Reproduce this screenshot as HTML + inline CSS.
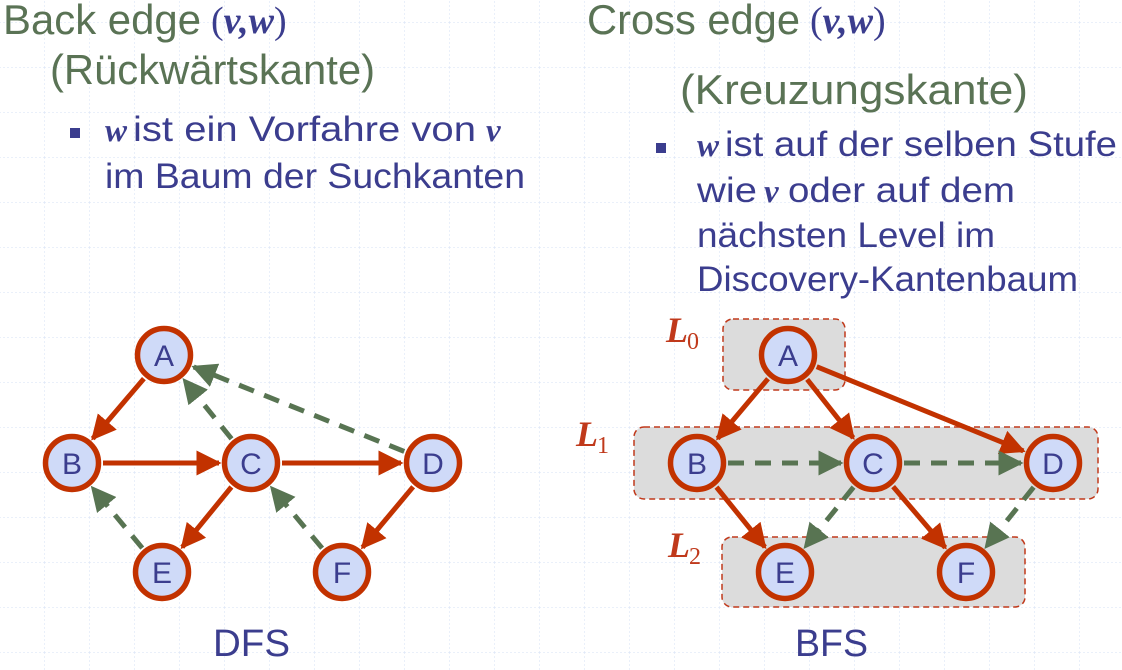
<!DOCTYPE html>
<html><head><meta charset="utf-8"><style>
html,body{margin:0;padding:0;background:#fff;}
svg{display:block;}
.t{font-family:"Liberation Sans",sans-serif;}
.g{fill:#5a7355;font-size:42px;}
.b{fill:#3b3d8e;font-size:35px;}
.vw{font-family:"Liberation Serif",serif;font-style:italic;font-weight:bold;fill:#3b3d8e;}
.lab{font-family:"Liberation Sans",sans-serif;font-size:30px;fill:#3b3d8e;text-anchor:middle;}
.L{font-family:"Liberation Serif",serif;font-style:italic;font-weight:bold;fill:#c0391b;font-size:36px;}
.Ls{font-family:"Liberation Serif",serif;fill:#c0391b;font-size:24px;}
</style></head><body>
<svg id="s" width="1122" height="670" viewBox="0 0 1122 670" xmlns="http://www.w3.org/2000/svg">
<defs>
<pattern id="grid" x="44" y="22" width="45" height="45" patternUnits="userSpaceOnUse">
<path d="M0 0V45M0 0H45" stroke="#d6e0f5" stroke-width="1" stroke-dasharray="2,2" fill="none"/>
</pattern>
<marker id="ar" viewBox="0 0 10 10" refX="9" refY="5" markerWidth="5" markerHeight="5" orient="auto" markerUnits="strokeWidth"><path d="M0 0L10 5L0 10z" fill="#c23200"/></marker>
<marker id="ag" viewBox="0 0 10 10" refX="9" refY="5" markerWidth="5" markerHeight="5" orient="auto" markerUnits="strokeWidth"><path d="M0 0L10 5L0 10z" fill="#587452"/></marker>
</defs>
<rect width="1122" height="670" fill="url(#grid)"/>

<text class="t g" x="3" y="34" textLength="198" lengthAdjust="spacingAndGlyphs">Back edge</text>
<text x="211" y="33" font-size="38" class="vw"><tspan style="font-style:normal;font-weight:normal">(</tspan>v,w<tspan style="font-style:normal;font-weight:normal">)</tspan></text>
<text class="t g" x="50" y="84" textLength="325" lengthAdjust="spacingAndGlyphs">(Rückwärtskante)</text>
<rect x="70" y="128" width="10" height="10" fill="#3b3d8e"/>
<text class="vw" x="105" y="141" font-size="33">w</text>
<text class="t b" x="133" y="141" textLength="343" lengthAdjust="spacingAndGlyphs">ist ein Vorfahre von</text>
<text class="vw" x="486" y="141" font-size="33">v</text>
<text class="t b" x="105" y="188" textLength="420" lengthAdjust="spacingAndGlyphs">im Baum der Suchkanten</text>

<text class="t g" x="587" y="34" textLength="213" lengthAdjust="spacingAndGlyphs">Cross edge</text>
<text x="810" y="33" font-size="38" class="vw"><tspan style="font-style:normal;font-weight:normal">(</tspan>v,w<tspan style="font-style:normal;font-weight:normal">)</tspan></text>
<text class="t g" x="680" y="104" textLength="348" lengthAdjust="spacingAndGlyphs">(Kreuzungskante)</text>
<rect x="656" y="143" width="10" height="10" fill="#3b3d8e"/>
<text class="vw" x="697" y="156" font-size="33">w</text>
<text class="t b" x="725" y="156" textLength="392" lengthAdjust="spacingAndGlyphs">ist auf der selben Stufe</text>
<text class="t b" x="697" y="202" textLength="60" lengthAdjust="spacingAndGlyphs">wie</text>
<text class="vw" x="764" y="202" font-size="33">v</text>
<text class="t b" x="788" y="202" textLength="227" lengthAdjust="spacingAndGlyphs">oder auf dem</text>
<text class="t b" x="697" y="247" textLength="298" lengthAdjust="spacingAndGlyphs">nächsten Level im</text>
<text class="t b" x="697" y="291" textLength="381" lengthAdjust="spacingAndGlyphs">Discovery-Kantenbaum</text>

<g fill="#dcdcdc" stroke="#c0391b" stroke-width="1.5" stroke-dasharray="6,4">
<rect x="723" y="319" width="122" height="71" rx="10"/>
<rect x="634" y="427" width="464" height="72" rx="10"/>
<rect x="722" y="537" width="303" height="70" rx="10"/>
</g>
<text class="L" x="666" y="342">L</text><text class="Ls" x="687" y="349">0</text>
<text class="L" x="576" y="446">L</text><text class="Ls" x="597" y="453">1</text>
<text class="L" x="668" y="557">L</text><text class="Ls" x="689" y="564">2</text>

<g id="edges"></g>
<g id="nodes"></g>

<text class="t" x="213" y="656" font-size="38" fill="#3b3d8e" textLength="77" lengthAdjust="spacingAndGlyphs">DFS</text>
<text class="t" x="795" y="656" font-size="38" fill="#3b3d8e" textLength="73" lengthAdjust="spacingAndGlyphs">BFS</text>
</svg>
<script>
var NS="http://www.w3.org/2000/svg";
var L={A:[164,355],B:[72,463],C:[251,463],D:[433,463],E:[162,572],F:[342,572]};
var R={A:[788,355],B:[697,463],C:[873,463],D:[1053,463],E:[785,572],F:[966,572]};
var E=document.getElementById('edges'),N=document.getElementById('nodes');
function edge(P,a,b,red){var p=P[a],q=P[b],dx=q[0]-p[0],dy=q[1]-p[1],d=Math.hypot(dx,dy),r=31;
var l=document.createElementNS(NS,'line');
l.setAttribute('x1',p[0]+dx/d*r);l.setAttribute('y1',p[1]+dy/d*r);
l.setAttribute('x2',q[0]-dx/d*(r+1));l.setAttribute('y2',q[1]-dy/d*(r+1));
l.setAttribute('stroke',red?'#c23200':'#587452');l.setAttribute('stroke-width',5);
if(!red)l.setAttribute('stroke-dasharray','16,11');
l.setAttribute('marker-end',red?'url(#ar)':'url(#ag)');E.appendChild(l);}
[['A','B'],['B','C'],['C','D'],['C','E'],['D','F']].forEach(function(e){edge(L,e[0],e[1],1)});
[['C','A'],['D','A'],['E','B'],['F','C']].forEach(function(e){edge(L,e[0],e[1],0)});
[['A','B'],['A','C'],['A','D'],['B','E'],['C','F']].forEach(function(e){edge(R,e[0],e[1],1)});
[['B','C'],['C','D'],['C','E'],['D','F']].forEach(function(e){edge(R,e[0],e[1],0)});
function nodes(P){for(var k in P){var c=document.createElementNS(NS,'circle');
c.setAttribute('cx',P[k][0]);c.setAttribute('cy',P[k][1]);c.setAttribute('r',26.5);
c.setAttribute('fill','#cfdaf8');c.setAttribute('stroke','#c23200');c.setAttribute('stroke-width',5.5);N.appendChild(c);
var t=document.createElementNS(NS,'text');t.setAttribute('class','lab');t.setAttribute('x',P[k][0]);t.setAttribute('y',P[k][1]+11);t.textContent=k;N.appendChild(t);}}
nodes(L);nodes(R);
</script>
</body></html>
